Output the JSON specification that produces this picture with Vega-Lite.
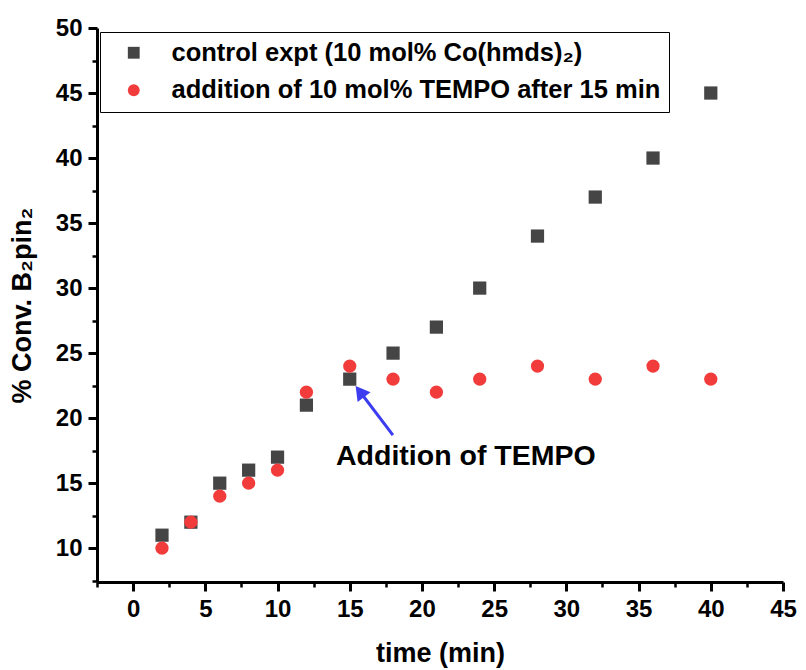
{
  "$schema": "https://vega.github.io/schema/vega-lite/v6.json",
  "autosize": "none",
  "width": 686,
  "height": 554,
  "padding": {"left": 97, "top": 28, "right": 23, "bottom": 88},
  "background": "white",
  "config": {
    "font": "Liberation Sans",
    "view": {"stroke": null},
    "axis": {
      "domainColor": "black",
      "domainWidth": 3,
      "tickColor": "black",
      "grid": false,
      "labelFont": "Liberation Sans",
      "labelFontWeight": "bold",
      "labelFontSize": 24,
      "labelColor": "black",
      "titleFont": "Liberation Sans",
      "titleFontWeight": "bold",
      "titleFontSize": 27,
      "titleColor": "black"
    },
    "legend": {
      "strokeColor": "black",
      "fillColor": "white",
      "padding": 8,
      "symbolOffset": 13,
      "labelOffset": 25,
      "labelFont": "Liberation Sans",
      "labelFontWeight": "bold",
      "labelFontSize": 25.5,
      "labelColor": "black",
      "labelLimit": 600,
      "rowPadding": 10.5,
      "symbolSize": 140,
      "symbolStrokeWidth": 0
    }
  },
  "resolve": {"axis": {"x": "independent", "y": "independent"}},
  "datasets": {
    "pts": [
      {"t": 2, "conv": 11, "series": "control expt (10 mol% Co(hmds)₂)"},
      {"t": 4, "conv": 12, "series": "control expt (10 mol% Co(hmds)₂)"},
      {"t": 6, "conv": 15, "series": "control expt (10 mol% Co(hmds)₂)"},
      {"t": 8, "conv": 16, "series": "control expt (10 mol% Co(hmds)₂)"},
      {"t": 10, "conv": 17, "series": "control expt (10 mol% Co(hmds)₂)"},
      {"t": 12, "conv": 21, "series": "control expt (10 mol% Co(hmds)₂)"},
      {"t": 15, "conv": 23, "series": "control expt (10 mol% Co(hmds)₂)"},
      {"t": 18, "conv": 25, "series": "control expt (10 mol% Co(hmds)₂)"},
      {"t": 21, "conv": 27, "series": "control expt (10 mol% Co(hmds)₂)"},
      {"t": 24, "conv": 30, "series": "control expt (10 mol% Co(hmds)₂)"},
      {"t": 28, "conv": 34, "series": "control expt (10 mol% Co(hmds)₂)"},
      {"t": 32, "conv": 37, "series": "control expt (10 mol% Co(hmds)₂)"},
      {"t": 36, "conv": 40, "series": "control expt (10 mol% Co(hmds)₂)"},
      {"t": 40, "conv": 45, "series": "control expt (10 mol% Co(hmds)₂)"},
      {"t": 2, "conv": 10, "series": "addition of 10 mol% TEMPO after 15 min"},
      {"t": 4, "conv": 12, "series": "addition of 10 mol% TEMPO after 15 min"},
      {"t": 6, "conv": 14, "series": "addition of 10 mol% TEMPO after 15 min"},
      {"t": 8, "conv": 15, "series": "addition of 10 mol% TEMPO after 15 min"},
      {"t": 10, "conv": 16, "series": "addition of 10 mol% TEMPO after 15 min"},
      {"t": 12, "conv": 22, "series": "addition of 10 mol% TEMPO after 15 min"},
      {"t": 15, "conv": 24, "series": "addition of 10 mol% TEMPO after 15 min"},
      {"t": 18, "conv": 23, "series": "addition of 10 mol% TEMPO after 15 min"},
      {"t": 21, "conv": 22, "series": "addition of 10 mol% TEMPO after 15 min"},
      {"t": 24, "conv": 23, "series": "addition of 10 mol% TEMPO after 15 min"},
      {"t": 28, "conv": 24, "series": "addition of 10 mol% TEMPO after 15 min"},
      {"t": 32, "conv": 23, "series": "addition of 10 mol% TEMPO after 15 min"},
      {"t": 36, "conv": 24, "series": "addition of 10 mol% TEMPO after 15 min"},
      {"t": 40, "conv": 23, "series": "addition of 10 mol% TEMPO after 15 min"}
    ],
    "arrow": [{"x": 17.99, "y": 18.7, "x2": 15.7, "y2": 22.05, "angle": 323}],
    "label": [{"x": 14.05, "y": 17.09, "text": "Addition of TEMPO"}]
  },
  "layer": [
    {
      "data": {"name": "label"},
      "mark": {"type": "point", "opacity": 0},
      "encoding": {
        "x": {
          "field": "x", "type": "quantitative",
          "scale": {"domain": [-2.5, 45], "nice": false, "zero": false},
          "axis": {
            "orient": "bottom",
            "title": null,
            "values": [-2.5, 2.5, 7.5, 12.5, 17.5, 22.5, 27.5, 32.5, 37.5, 42.5],
            "labels": false,
            "domain": false,
            "tickSize": 5,
            "tickWidth": 2.5
          }
        },
        "y": {
          "field": "y", "type": "quantitative",
          "scale": {"domain": [7.4, 50], "nice": false, "zero": false},
          "axis": {
            "orient": "left",
            "title": null,
            "values": [7.5, 12.5, 17.5, 22.5, 27.5, 32.5, 37.5, 42.5, 47.5],
            "labels": false,
            "domain": false,
            "tickSize": 5,
            "tickWidth": 2.5
          }
        }
      }
    },
    {
      "data": {"name": "pts"},
      "mark": {"type": "point", "filled": true, "opacity": 1},
      "encoding": {
        "x": {
          "field": "t", "type": "quantitative",
          "axis": {
            "orient": "bottom",
            "title": "time (min)",
            "values": [0, 5, 10, 15, 20, 25, 30, 35, 40, 45],
            "labelOverlap": false,
            "tickSize": 9,
            "tickWidth": 3,
            "labelPadding": 6,
            "titlePadding": 19,
            "labelFlush": false
          }
        },
        "y": {
          "field": "conv", "type": "quantitative",
          "axis": {
            "orient": "left",
            "title": "% Conv. B₂pin₂",
            "values": [10, 15, 20, 25, 30, 35, 40, 45, 50],
            "labelOverlap": false,
            "tickSize": 9,
            "tickWidth": 3,
            "labelPadding": 6,
            "titlePadding": 19,
            "labelFlush": false
          }
        },
        "shape": {
          "field": "series", "type": "nominal",
          "scale": {"domain": ["control expt (10 mol% Co(hmds)₂)", "addition of 10 mol% TEMPO after 15 min"], "range": ["square", "circle"]},
          "legend": {"title": null, "orient": "none", "legendX": 3, "legendY": 4}
        },
        "color": {
          "field": "series", "type": "nominal",
          "scale": {"domain": ["control expt (10 mol% Co(hmds)₂)", "addition of 10 mol% TEMPO after 15 min"], "range": ["#454545", "#f23b3b"]},
          "legend": {"title": null, "orient": "none", "legendX": 3, "legendY": 4}
        },
        "size": {"value": 175}
      }
    },
    {
      "data": {"name": "arrow"},
      "mark": {"type": "rule", "color": "#3c3cf0", "strokeWidth": 3},
      "encoding": {
        "x": {"field": "x", "type": "quantitative", "axis": null},
        "y": {"field": "y", "type": "quantitative", "axis": null},
        "x2": {"field": "x2"},
        "y2": {"field": "y2"}
      }
    },
    {
      "data": {"name": "arrow"},
      "mark": {"type": "point", "shape": "triangle-up", "filled": true, "color": "#3c3cf0", "opacity": 1, "size": 260},
      "encoding": {
        "x": {"field": "x2", "type": "quantitative", "axis": null},
        "y": {"field": "y2", "type": "quantitative", "axis": null},
        "angle": {"field": "angle", "type": "quantitative", "scale": null}
      }
    },
    {
      "data": {"name": "label"},
      "mark": {"type": "text", "align": "left", "baseline": "middle", "font": "Liberation Sans", "fontWeight": "bold", "fontSize": 28.5, "color": "black"},
      "encoding": {
        "x": {"field": "x", "type": "quantitative", "axis": null},
        "y": {"field": "y", "type": "quantitative", "axis": null},
        "text": {"field": "text"}
      }
    }
  ]
}
